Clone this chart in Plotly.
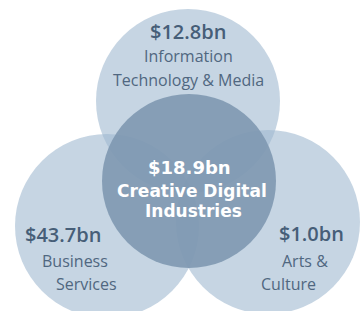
import plotly.graph_objects as go

# ---- data ----
segments = ["Information Technology & Media", "Business Services", "Arts & Culture"]
segment_values = [12.8, 43.7, 1.0]           # $bn
core_label = "Creative Digital Industries"
core_value = 18.9                            # $bn
segment_lines = [["Information", "Technology & Media"], ["Business", "Services"], ["Arts &", "Culture"]]
core_lines = ["Creative Digital", "Industries"]

# ---- layout constants (pixel space) ----
W, H = 362, 311
outer_circles = [(188, 101, 92), (107, 226, 92), (268, 222, 92)]   # cx, cy, r
core_circle = (189, 181, 87)

# text anchor positions per segment: (value pos, [line positions])
seg_text_pos = [
    ((188, 31), [(188, 56), (188, 80)]),
    ((63, 234), [(75, 261), (86, 284)]),
    ((311, 233), [(305, 261), (288, 284)]),
]
core_text_pos = ((189, 167), [(192, 191), (193, 211)])

outer_fill = "rgb(160,185,208)"
outer_opacity = 0.6
core_fill = "rgb(124,149,175)"
outer_text = "#506780"
font_family = "Open Sans, Noto Sans, sans-serif"
core_font = "DejaVu Sans, Open Sans, sans-serif"

fig = go.Figure()
fig.add_trace(go.Scatter(x=[0, W], y=[0, H], mode="markers", marker=dict(opacity=0),
                         hoverinfo="skip", showlegend=False))

shapes = []
for cx, cy, r in outer_circles:
    shapes.append(dict(type="circle", xref="x", yref="y", x0=cx - r, x1=cx + r, y0=cy - r, y1=cy + r,
                       fillcolor=outer_fill, opacity=outer_opacity, line=dict(width=0), layer="below"))
cx, cy, r = core_circle
shapes.append(dict(type="circle", xref="x", yref="y", x0=cx - r, x1=cx + r, y0=cy - r, y1=cy + r,
                   fillcolor=core_fill, opacity=0.86, line=dict(width=0), layer="below"))

annotations = []
for val, lines, (vpos, lpos) in zip(segment_values, segment_lines, seg_text_pos):
    annotations.append(dict(x=vpos[0], y=vpos[1], text=f"${val:.1f}bn", showarrow=False,
                            font=dict(family=font_family, size=20, color="#465e78", weight=600),
                            xanchor="center", yanchor="middle"))
    for ln, p in zip(lines, lpos):
        annotations.append(dict(x=p[0], y=p[1], text=ln, showarrow=False,
                                font=dict(family=font_family, size=16, color=outer_text),
                                xanchor="center", yanchor="middle"))

vpos, lpos = core_text_pos
annotations.append(dict(x=vpos[0], y=vpos[1], text=f"${core_value:.1f}bn", showarrow=False,
                        font=dict(family=core_font, size=18, color="white", weight=700),
                        xanchor="center", yanchor="middle"))
for ln, p in zip(core_lines, lpos):
    annotations.append(dict(x=p[0], y=p[1], text=ln, showarrow=False,
                            font=dict(family=core_font, size=17, color="white", weight=700),
                            xanchor="center", yanchor="middle"))

fig.update_layout(
    width=W, height=H, margin=dict(l=0, r=0, t=0, b=0),
    paper_bgcolor="white", plot_bgcolor="white",
    xaxis=dict(range=[0, W], visible=False, fixedrange=True),
    yaxis=dict(range=[H, 0], visible=False, fixedrange=True),
    shapes=shapes, annotations=annotations, showlegend=False,
)
fig.write_html("out.html", config={"displayModeBar": False},
               post_script="document.body.style.margin='0';document.body.style.overflow='hidden';")
